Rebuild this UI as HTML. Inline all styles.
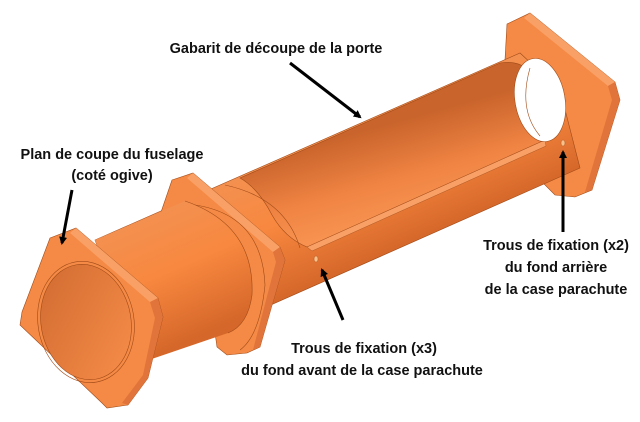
<!DOCTYPE html>
<html><head><meta charset="utf-8"><style>
html,body{margin:0;padding:0;background:#fff;}
svg{display:block}
text{font-family:"Liberation Sans",sans-serif;font-weight:bold;font-size:14.5px;fill:#111}
</style></head><body>
<svg width="640" height="422" viewBox="0 0 640 422" xmlns="http://www.w3.org/2000/svg">
<defs>
<linearGradient id="tube" gradientUnits="userSpaceOnUse" x1="300" y1="150" x2="352" y2="269">
<stop offset="0" stop-color="#f39050"/><stop offset="0.45" stop-color="#f8883f"/><stop offset="1" stop-color="#d5672a"/>
</linearGradient>
<linearGradient id="inner" gradientUnits="userSpaceOnUse" x1="330" y1="140" x2="355" y2="230">
<stop offset="0" stop-color="#c9642c"/><stop offset="0.6" stop-color="#f08443"/><stop offset="1" stop-color="#f79250"/>
</linearGradient>
<linearGradient id="hole" x1="0" y1="0" x2="1" y2="1">
<stop offset="0" stop-color="#d06a30"/><stop offset="1" stop-color="#f88e4a"/>
</linearGradient>
<marker id="ah" markerWidth="8" markerHeight="8" refX="6" refY="4" orient="auto" markerUnits="userSpaceOnUse" viewBox="0 0 8 8">
<path d="M0,0 L8,4 L0,8 z" fill="#000"/></marker>
</defs>

<!-- rear flange -->
<polygon points="507,24 530,13 615,82 620,100 592,190 575,197 555,195 540,180 505,60" fill="#f48a45" stroke="#a04a18" stroke-width="0.6"/>
<polygon points="530,13 615,82 608,86 524,18" fill="#f9a066"/>
<polygon points="608,86 615,82 620,100 592,190 585,192 612,100" fill="#e0743a"/>

<!-- main tube -->
<polygon points="95,240 520,53 560,90 580,168 140,363" fill="url(#tube)" stroke="#a04a18" stroke-width="0.6"/>
<!-- door cutout -->
<path d="M240,178 L500,63 Q520,60 530,72 L545,140 L307,247 Q285,238 272,215 Q258,188 240,178 z" fill="url(#inner)" stroke="#a04a18" stroke-width="0.6"/>
<path d="M307,247 L545,140 L546,146 L312,251 z" fill="#f9a066" stroke="#a04a18" stroke-width="0.4"/>
<ellipse cx="540" cy="100" rx="25" ry="42" fill="#fff" stroke="#a04a18" stroke-width="0.6" transform="rotate(-10 540 100)"/>
<path d="M530,68 Q518,110 540,136" fill="none" stroke="#a04a18" stroke-width="0.6"/>
<ellipse cx="563" cy="143" rx="2" ry="3" fill="#f9c08a" stroke="#a04a18" stroke-width="0.4"/>
<ellipse cx="316" cy="259" rx="2" ry="3" fill="#f9c08a" stroke="#a04a18" stroke-width="0.4"/>
<path d="M225,185 Q285,198 300,248" fill="none" stroke="#a04a18" stroke-width="0.6"/>

<!-- middle flange -->
<polygon points="172,180 193,173 280,247 285,260 260,347 247,353 227,355 217,347 205,260 160,215" fill="#f48a45" stroke="#a04a18" stroke-width="0.6"/>
<polygon points="193,173 280,247 273,252 187,178" fill="#f9a066"/>
<polygon points="273,252 280,247 285,260 260,347 253,350 276,262" fill="#e0743a"/>
<path d="M195,205 Q262,215 265,285 Q260,335 240,350" fill="none" stroke="#a04a18" stroke-width="0.6"/>
<!-- front tube segment -->
<path d="M95,240 L185,201 Q255,225 252,295 Q248,325 228,333 L140,363 z" fill="url(#tube)"/>
<path d="M185,201 Q255,225 252,295 Q248,325 228,333" fill="none" stroke="#a04a18" stroke-width="0.6"/>

<!-- front flange -->
<polygon points="50,238 76,228 158,298 163,317 148,378 128,405 107,408 102,403 20,325 22,312" fill="#f48a45" stroke="#a04a18" stroke-width="0.6"/>
<polygon points="76,228 158,298 150,302 70,233" fill="#f9a066"/>
<polygon points="150,302 158,298 163,317 148,378 128,405 122,403 143,375 155,318" fill="#e0743a"/>
<ellipse cx="86" cy="322" rx="48" ry="61" fill="none" stroke="#a04a18" stroke-width="0.6" transform="rotate(-10 86 322)"/>
<ellipse cx="86" cy="322" rx="45" ry="58" fill="url(#hole)" stroke="#a04a18" stroke-width="0.6" transform="rotate(-10 86 322)"/>

<!-- arrows -->
<line x1="290" y1="63" x2="360" y2="117" stroke="#000" stroke-width="3" marker-end="url(#ah)"/>
<line x1="72" y1="190" x2="62" y2="243" stroke="#000" stroke-width="3" marker-end="url(#ah)"/>
<line x1="563" y1="232" x2="563" y2="152" stroke="#000" stroke-width="3" marker-end="url(#ah)"/>
<line x1="343" y1="320" x2="322" y2="270" stroke="#000" stroke-width="3" marker-end="url(#ah)"/>

<!-- labels -->
<text x="276" y="53" text-anchor="middle">Gabarit de découpe de la porte</text>
<text x="112" y="159" text-anchor="middle">Plan de coupe du fuselage</text>
<text x="112" y="180" text-anchor="middle">(coté ogive)</text>
<text x="556" y="250" text-anchor="middle">Trous de fixation (x2)</text>
<text x="556" y="272" text-anchor="middle">du fond arrière</text>
<text x="556" y="294" text-anchor="middle">de la case parachute</text>
<text x="364" y="353" text-anchor="middle">Trous de fixation (x3)</text>
<text x="362" y="375" text-anchor="middle">du fond avant de la case parachute</text>
</svg>
</body></html>
